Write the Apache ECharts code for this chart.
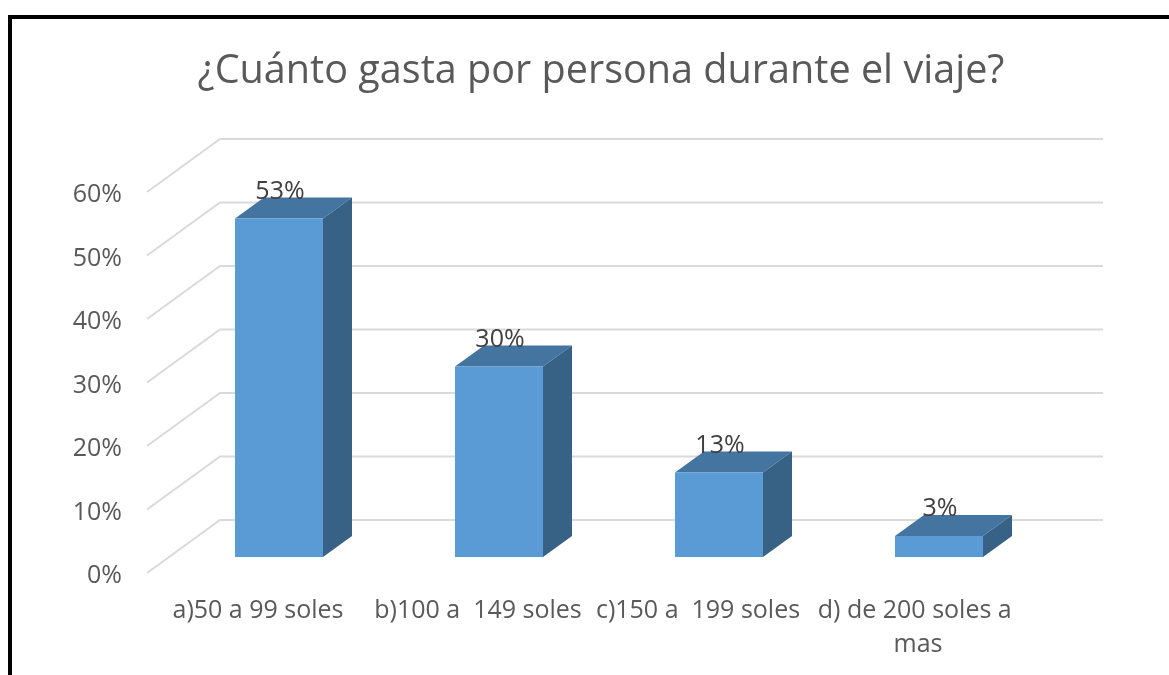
<!DOCTYPE html>
<html><head><meta charset="utf-8">
<script src="https://cdn.jsdelivr.net/npm/echarts@6/dist/echarts.min.js"></script>
<style>html,body{margin:0;padding:0;background:#fff}#c{width:1169px;height:675px}</style>
</head><body><div id="c"></div>
<script>
const titleText = '¿Cuánto gasta por persona durante el viaje?';
const categories = ['a)50 a 99 soles', 'b)100 a  149 soles', 'c)150 a  199 soles', 'd) de 200 soles a mas'];
const values = [53.3, 30.0, 13.3, 3.3];
const wallTicks = [0, 10, 20, 30, 40, 50, 60];

const FONT = '"Open Sans"';
const TXT = '#595959';
const WALL_DX = 73, WALL_DY = -53;     // floor depth of the 3D box
const FRONT_DX = 21, FRONT_DY = -16;   // bar front plane offset from axis plane
const BAR_DX = 29, BAR_DY = -21;       // bar depth
const BAR_W = 88;
const GRID_LEFT = 148, GRID_W = 880;

function renderWall(params, api) {
  const v = api.value(0);
  const p = api.coord([0, v]);
  const y = p[1];
  const x0 = params.coordSys.x - 1;
  const x1 = x0 + WALL_DX;
  const y1 = y + WALL_DY;
  const style = { stroke: '#DADADA', lineWidth: 2, fill: 'none' };
  return { type: 'polyline', shape: { points: [[x0, y], [x1, y1], [x0 + 956, y1]] }, style };
}
function renderBar(params, api) {
  const c0 = api.coord([api.value(0), 0]);
  const c1 = api.coord([api.value(0), api.value(1)]);
  const cx = c0[0] + FRONT_DX;
  const l = cx - BAR_W / 2, r = cx + BAR_W / 2;
  const b = c0[1] + FRONT_DY, t = c1[1] + FRONT_DY;
  return {
    type: 'group',
    children: [
      { type: 'polygon', shape: { points: [[l, t], [r, t], [r + BAR_DX, t + BAR_DY], [l + BAR_DX, t + BAR_DY]] },
        style: { fill: '#4475A1' } },
      { type: 'polygon', shape: { points: [[r, t], [r + BAR_DX, t + BAR_DY], [r + BAR_DX, b + BAR_DY], [r, b]] },
        style: { fill: '#386186' } },
      { type: 'rect', shape: { x: l, y: t, width: BAR_W, height: b - t }, style: { fill: '#5B9BD5' } },
      { type: 'text', x: cx + 1, y: t - 27,
        style: { text: Math.round(api.value(1)) + '%', fill: '#404040', font: '25px ' + FONT, textAlign: 'center', textVerticalAlign: 'middle' } }
    ]
  };
}

const chart = echarts.init(document.getElementById('c'), null, { renderer: 'canvas' });
chart.setOption({
  animation: false,
  backgroundColor: '#ffffff',
  title: {
    text: titleText, left: 596, top: 47, textAlign: 'center',
    textStyle: { fontFamily: FONT, fontSize: 39.6, fontWeight: 'normal', color: TXT }
  },
  graphic: [
    { type: 'rect', shape: { x: 8, y: 15, width: 1161, height: 4 }, style: { fill: '#000' } },
    { type: 'rect', shape: { x: 8, y: 15, width: 4, height: 660 }, style: { fill: '#000' } }
  ],
  grid: { left: GRID_LEFT, width: GRID_W, top: 192, height: 381 },
  xAxis: {
    type: 'category', data: categories,
    axisLine: { show: false }, axisTick: { show: false }, splitLine: { show: false },
    axisLabel: { interval: 0, margin: 21, width: 216, overflow: 'break', lineHeight: 34,
      fontFamily: FONT, fontSize: 25, color: TXT }
  },
  yAxis: {
    type: 'value', min: 0, max: 60, interval: 10,
    axisLine: { show: false }, axisTick: { show: false }, splitLine: { show: false },
    axisLabel: { margin: 26, verticalAlign: 'top', lineHeight: 6, formatter: '{value}%', fontFamily: FONT, fontSize: 25, color: TXT }
  },
  series: [
    { type: 'custom', data: wallTicks.map(v => [v]), renderItem: renderWall, encode: { y: 0 }, clip: false, z: 1, silent: true },
    { type: 'custom', data: values.map((v, i) => [i, v]), renderItem: renderBar, encode: { x: 0, y: 1 }, clip: false, z: 2, silent: true }
  ]
});
</script></body></html>
